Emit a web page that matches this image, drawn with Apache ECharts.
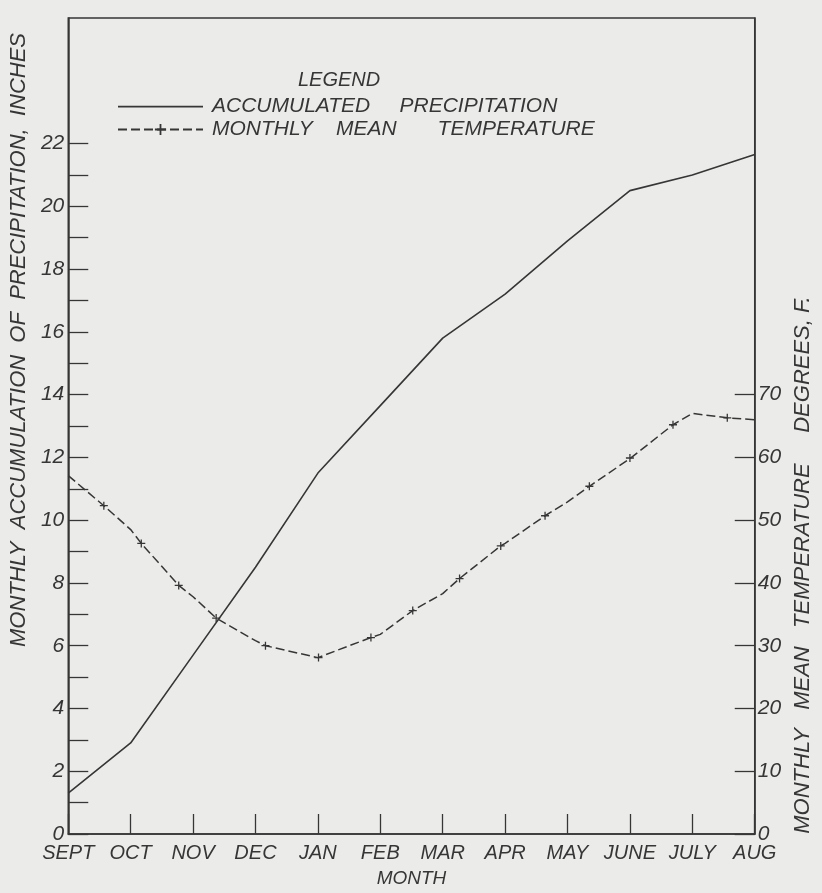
<!DOCTYPE html>
<html>
<head>
<meta charset="utf-8">
<script src="https://cdn.jsdelivr.net/npm/echarts@6/dist/echarts.min.js"></script>
<style>
html,body{margin:0;padding:0;background:#ebebe9;}
#chart{width:822px;height:893px;}
</style>
</head>
<body>
<div id="chart"></div>
<script>
const months = ['SEPT','OCT','NOV','DEC','JAN','FEB','MAR','APR','MAY','JUNE','JULY','AUG'];
const precipitation = [1.3, 2.9, 5.7, 8.5, 11.5, 13.65, 15.8, 17.2, 18.9, 20.5, 21.0, 21.65];
const temperatureMonthly = [57.1, 48.5, 37.8, 30.8, 28.1, 31.8, 38.3, 46.3, 52.9, 59.8, 67.0, 66.0];
const tempMarkerMonth = [0.57, 1.17, 1.77, 2.37, 3.16, 4.01, 4.85, 5.52, 6.27, 6.93, 7.64, 8.35, 9.0, 9.69, 10.56];
const tempMarkerValue = [52.3, 46.3, 39.6, 34.4, 30.0, 28.1, 31.3, 35.6, 40.7, 45.9, 50.7, 55.4, 59.9, 65.2, 66.3];
const precipTicks = [0,1,2,3,4,5,6,7,8,9,10,11,12,13,14,15,16,17,18,19,20,21,22];
const precipLabels = [0,2,4,6,8,10,12,14,16,18,20,22];
const tempTicks = [0,10,20,30,40,50,60,70];
const legendNames = ['ACCUMULATED PRECIPITATION', 'MONTHLY MEAN TEMPERATURE'];
const legendShown = {
  'ACCUMULATED PRECIPITATION': 'ACCUMULATED     PRECIPITATION',
  'MONTHLY MEAN TEMPERATURE': 'MONTHLY    MEAN       TEMPERATURE'
};

const INK = '#363636';
const FONT = '"Liberation Sans", Arial, sans-serif';
const plusPath = 'path://M0,4.2H10V5.8H0Z M4.2,0H5.8V10H4.2Z';
const solidIcon = 'path://M0,0h0.01v0.01h-0.01z M0,6.3h85v1.6h-85z M0,13.99h0.01v0.01h-0.01z';

const precipData = months.map((m, i) => [i, precipitation[i]]);
const tempPoints = [];
temperatureMonthly.forEach((v, i) => tempPoints.push({ value: [i, v], symbol: 'none' }));
tempMarkerMonth.forEach((x, i) => tempPoints.push({ value: [x, tempMarkerValue[i]] }));
tempPoints.sort((a, b) => a.value[0] - b.value[0]);

const txt = { fontFamily: FONT, fontStyle: 'italic', color: INK };

const chart = echarts.init(document.getElementById('chart'), null, { renderer: 'canvas' });
chart.setOption({
  backgroundColor: '#ebebe9',
  animation: false,
  title: {
    text: 'LEGEND', left: 293, top: 65,
    textStyle: Object.assign({}, txt, { fontSize: 20, fontWeight: 'normal' })
  },
  legend: {
    orient: 'vertical', left: 112, top: 91,
    itemWidth: 85, itemHeight: 14, itemGap: 2,
    data: [{ name: legendNames[0], icon: solidIcon }, { name: legendNames[1] }],
    formatter: n => legendShown[n],
    textStyle: Object.assign({}, txt, { fontSize: 21, padding: [0, 0, 0, 4] }),
    inactiveColor: INK
  },
  grid: {
    left: 68, right: 57, top: 18, bottom: 57,
    show: true, borderColor: INK, borderWidth: 1.5, backgroundColor: 'transparent'
  },
  xAxis: {
    type: 'value', min: 0, max: 11, interval: 1,
    name: 'MONTH', nameLocation: 'middle', nameGap: 35,
    nameTextStyle: Object.assign({}, txt, { fontSize: 19 }),
    axisLine: { lineStyle: { color: INK, width: 1.5 } },
    axisTick: { inside: true, length: 20, lineStyle: { color: INK, width: 1.3 } },
    axisLabel: Object.assign({}, txt, { fontSize: 20, margin: 9, formatter: v => months[v] }),
    splitLine: { show: false }
  },
  yAxis: [
    {
      type: 'value', min: 0, max: 26, interval: 2, position: 'left',
      name: 'MONTHLY  ACCUMULATION  OF  PRECIPITATION,  INCHES',
      nameLocation: 'middle', nameGap: 32, nameRotate: 90,
      nameTextStyle: Object.assign({}, txt, { fontSize: 22, padding: [0, 0, 0, 172] }),
      axisLine: { show: true, lineStyle: { color: INK, width: 1.5 } },
      axisTick: { inside: true, length: 20, customValues: precipTicks, lineStyle: { color: INK, width: 1.3 } },
      axisLabel: Object.assign({}, txt, { fontSize: 21, margin: 4, customValues: precipLabels }),
      splitLine: { show: false }
    },
    {
      type: 'value', min: 0, max: 130, interval: 10, position: 'right',
      name: 'MONTHLY   MEAN   TEMPERATURE     DEGREES, F.',
      nameLocation: 'middle', nameGap: 35, nameRotate: 90,
      nameTextStyle: Object.assign({}, txt, { fontSize: 22, padding: [0, 278, 0, 0] }),
      axisLine: { show: true, lineStyle: { color: INK, width: 1.5 } },
      axisTick: { inside: true, length: 20, customValues: tempTicks, lineStyle: { color: INK, width: 1.3 } },
      axisLabel: Object.assign({}, txt, { fontSize: 21, margin: 3, customValues: tempTicks }),
      splitLine: { show: false }
    }
  ],
  series: [
    {
      name: legendNames[0], type: 'line', yAxisIndex: 0,
      data: precipData, symbol: 'none',
      lineStyle: { color: INK, width: 1.6 }, itemStyle: { color: INK }
    },
    {
      name: legendNames[1], type: 'line', yAxisIndex: 1,
      data: tempPoints, symbol: plusPath, symbolSize: 8,
      lineStyle: { color: INK, width: 1.5, type: [9, 4] },
      itemStyle: { color: INK }
    }
  ]
});
</script>
</body>
</html>
